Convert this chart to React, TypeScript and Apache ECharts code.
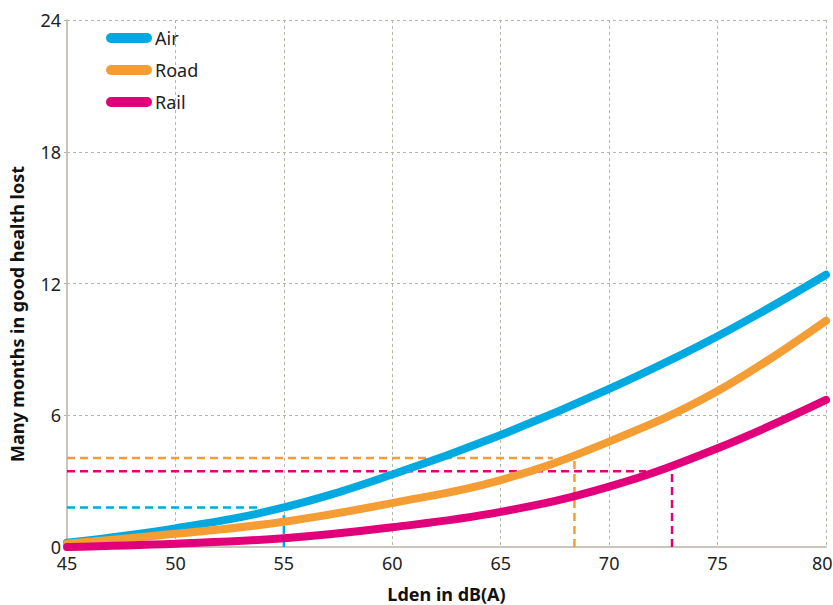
import React, { useEffect, useRef } from "react";
import * as echarts from "echarts";

const xValues = [45, 50, 55, 60, 65, 70, 75, 80];
const airValues = [0.2, 0.85, 1.8, 3.3, 5.1, 7.2, 9.6, 12.4];
const roadValues = [0.15, 0.6, 1.15, 2.0, 3.05, 4.8, 7.1, 10.3];
const railValues = [0.0, 0.15, 0.4, 0.9, 1.6, 2.75, 4.5, 6.7];

// reference (dashed) guide lines: [x, y] points
const airGuideH = [[45, 1.8], [54, 1.8]];
const airGuideV = [[55, 0], [55, 1.45]];
const roadGuideH = [[45, 4.05], [67.4, 4.05]];
const roadGuideV = [[68.4, 0], [68.4, 4.0]];
const railGuideH = [[45, 3.45], [71.7, 3.45]];
const railGuideV = [[72.9, 0], [72.9, 3.65]];

const yAxisTitle = "Many months in good health lost";
const xAxisTitle = "Lden in dB(A)";

const AIR = "#00a9e0";
const ROAD = "#f59d35";
const RAIL = "#e2007a";
const FONT = "Noto Sans";

const pair = (xs: number[], ys: number[]) => xs.map((x, i) => [x, ys[i]]);

export default function App() {
  const ref = useRef<HTMLDivElement>(null);
  useEffect(() => {
    if (!ref.current) return;
    document.body.style.margin = "0";
    const chart = echarts.init(ref.current, undefined, { renderer: "svg" });
    const mainLine = (name: string, color: string, ys: number[]) => ({
      name,
      type: "line",
      data: pair(xValues, ys),
      smooth: 0.4,
      showSymbol: false,
      symbol: "none",
      lineStyle: { color, width: 8, cap: "round", join: "round" },
      itemStyle: { color },
      z: 3,
    });
    const guide = (color: string, pts: number[][]) => ({
      type: "line",
      data: pts,
      showSymbol: false,
      symbol: "none",
      silent: true,
      lineStyle: { color, width: 2.5, type: [8, 5] },
      z: 2,
    });
    const icon = "path://M5,0 H41 A5,5 0 0 1 41,10 H5 A5,5 0 0 1 5,0 Z";
    chart.setOption({
      animation: false,
      textStyle: { fontFamily: FONT },
      grid: { left: 67, right: 7, top: 20, bottom: 58, outerBoundsMode: "none", containLabel: false },
      legend: {
        left: 101,
        top: 24,
        orient: "vertical",
        itemWidth: 46,
        itemHeight: 10,
        itemGap: 14,
        data: [
          { name: "Air", icon },
          { name: "Road", icon },
          { name: "Rail", icon },
        ],
        textStyle: { fontSize: 18, color: "#222", fontFamily: FONT, padding: [0, 0, 0, -2] },
      },
      graphic: [
        {
          type: "text",
          x: 17,
          y: 314,
          rotation: Math.PI / 2,
          style: {
            text: yAxisTitle,
            fontSize: 18,
            fontWeight: "bold",
            fill: "#111",
            fontFamily: FONT,
            align: "center",
            verticalAlign: "middle",
          },
        },
      ],
      xAxis: {
        type: "value",
        min: 45,
        max: 80,
        interval: 5,
        name: xAxisTitle,
        nameLocation: "middle",
        nameGap: 38,
        nameTextStyle: { fontSize: 18, fontWeight: "bold", color: "#111", fontFamily: FONT },
        axisLine: { show: true, lineStyle: { color: "#c9c5b9", width: 2 } },
        axisTick: { show: false },
        axisLabel: {
          fontSize: 18,
          color: "#222",
          margin: 7,
          fontFamily: FONT,
          formatter: (v: number) => (v === 80 ? "{last|80}" : String(v)),
          rich: { last: { fontSize: 18, color: "#222", fontFamily: FONT, width: 28, align: "left" } },
        },
        splitLine: { show: true, lineStyle: { color: "#b8b4a6", type: [3, 3], width: 1 } },
      },
      yAxis: {
        type: "value",
        min: 0,
        max: 24,
        interval: 6,
        axisLine: { show: true, lineStyle: { color: "#c9c5b9", width: 2 } },
        axisTick: { show: true, length: 6, lineStyle: { color: "#b8b4a6", type: [3, 3] } },
        axisLabel: { fontSize: 18, color: "#222", margin: 6, fontFamily: FONT },
        splitLine: { show: true, lineStyle: { color: "#b8b4a6", type: [3, 3], width: 1 } },
      },
      series: [
        guide(AIR, airGuideH),
        guide(AIR, airGuideV),
        guide(ROAD, roadGuideH),
        guide(ROAD, roadGuideV),
        guide(RAIL, railGuideH),
        guide(RAIL, railGuideV),
        mainLine("Air", AIR, airValues),
        mainLine("Road", ROAD, roadValues),
        mainLine("Rail", RAIL, railValues),
      ],
    });
    return () => chart.dispose();
  }, []);
  return <div ref={ref} style={{ width: 833, height: 605 }} />;
}
